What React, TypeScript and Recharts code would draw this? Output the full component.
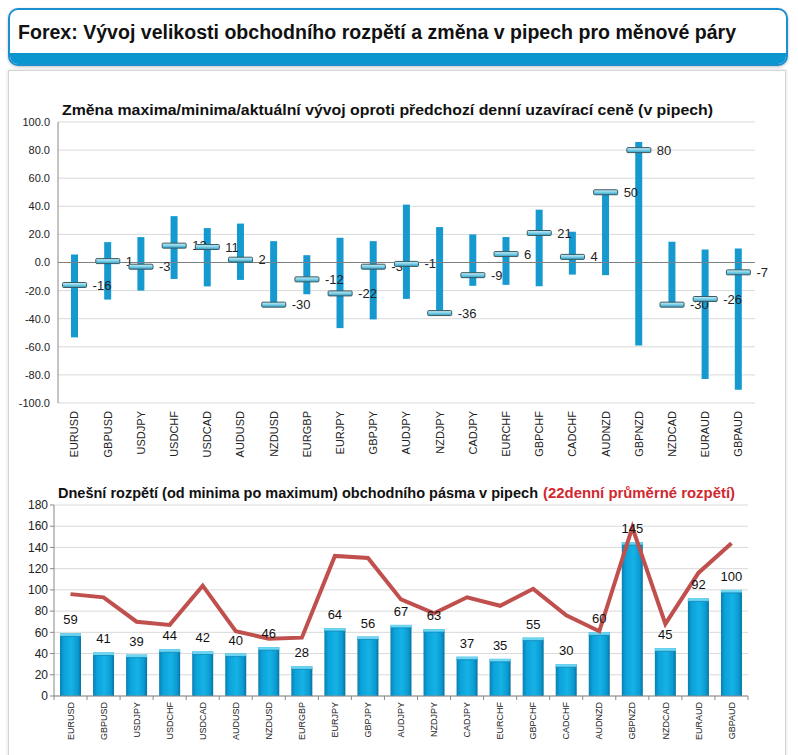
import React from 'react'
import {
  ComposedChart,
  Bar,
  Scatter,
  Line,
  XAxis,
  YAxis,
  CartesianGrid,
  ReferenceLine,
  LabelList,
} from 'recharts'

const pairs = [
  'EURUSD', 'GBPUSD', 'USDJPY', 'USDCHF', 'USDCAD', 'AUDUSD', 'NZDUSD', 'EURGBP', 'EURJPY', 'GBPJPY', 'AUDJPY',
  'NZDJPY', 'CADJPY', 'EURCHF', 'GBPCHF', 'CADCHF', 'AUDNZD', 'GBPNZD', 'NZDCAD', 'EURAUD', 'GBPAUD',
]

// change vs previous daily close (pips)
const maxChange = [5.7, 14.5, 18.1, 33, 24.5, 27.7, 15.2, 5.2, 17.6, 15.2, 41.2, 25.2, 20, 18.1, 37.6, 21.9, 50, 85.7, 14.8, 9.3, 10]
const minChange = [-53.3, -26.4, -20, -11.7, -17, -12.4, -30, -22.6, -46.7, -40.5, -25.9, -36, -16.6, -15.9, -16.9, -8.6, -9, -59, -30, -83, -90.5]
const currentChange = [-16, 1, -3, 12, 11, 2, -30, -12, -22, -3, -1, -36, -9, 6, 21, 4, 50, 80, -30, -26, -7]

// today's range and 22-day average range (pips)
const todayRange = [59, 41, 39, 44, 42, 40, 46, 28, 64, 56, 67, 63, 37, 35, 55, 30, 60, 145, 45, 92, 100]
const avgRange22 = [96, 93, 70, 67, 104, 61, 54, 55, 132, 130, 91, 78, 93, 85, 101, 76, 61, 159, 68, 116, 144]

const changeTicks = [-100, -80, -60, -40, -20, 0, 20, 40, 60, 80, 100]
const rangeTicks = [0, 20, 40, 60, 80, 100, 120, 140, 160, 180]

const FONT = '"Liberation Sans", Arial, sans-serif'

const changeData = pairs.map((p, i) => ({
  pair: p,
  range: [minChange[i], maxChange[i]],
  current: currentChange[i],
}))

const rangeData = pairs.map((p, i) => ({
  pair: p,
  today: todayRange[i],
  avg: avgRange22[i],
}))

function MarkerShape(props: any) {
  const { cx, cy, payload } = props
  if (cx == null || cy == null) return null
  return (
    <g>
      <rect x={cx - 12} y={cy - 2.5} width={24} height={5} rx={1} fill="url(#markerGrad)" stroke="#3b5a60" strokeWidth={1} />
      <text x={cx + 18} y={cy} dy="0.35em" fontSize={13} fill="#222" fontFamily={FONT}>
        {payload.current}
      </text>
    </g>
  )
}

function VTick(props: any) {
  const { x, y, payload, size, boundary } = props
  return (
    <g>
      {boundary && (
        <>
          <line x1={x + boundary} x2={x + boundary} y1={y - 6} y2={y - 2} stroke="#888" />
          {payload.index === 0 && <line x1={x - boundary} x2={x - boundary} y1={y - 6} y2={y - 2} stroke="#888" />}
        </>
      )}
      <g transform={`translate(${x},${y}) rotate(-90)`}>
        <text x={0} y={0} dy="0.35em" textAnchor="end" fontSize={size} fill="#222" fontFamily={FONT}>
          {payload.value}
        </text>
      </g>
    </g>
  )
}

function CylBar(props: any) {
  const { x, y, width, height } = props
  if (height == null || height <= 0) return null
  return (
    <g>
      <rect x={x} y={y} width={width} height={height} fill="url(#barGrad)" />
      <rect x={x} y={y} width={width} height={3} fill="#6fd6f2" />
      <line x1={x} x2={x + width} y1={y + 3} y2={y + 3} stroke="#0a86b8" strokeWidth={0.8} />
    </g>
  )
}

export default function App() {
  return (
    <div style={{ position: 'absolute', left: 0, top: 0, width: 798, height: 755, background: '#fff', overflow: 'hidden' }}>
      {/* header */}
      <div
        style={{
          position: 'absolute',
          left: 8,
          top: 8,
          width: 776,
          height: 54,
          border: '2px solid #1b90d0',
          borderRadius: 10,
          overflow: 'hidden',
          boxShadow: '0 1px 3px rgba(0,0,0,0.25)',
          background: '#fff',
        }}
      >
        <div style={{ position: 'absolute', left: 0, right: 0, bottom: 0, height: 11, background: '#0b96d0' }} />
      </div>
      {/* panel */}
      <div
        style={{
          position: 'absolute',
          left: 8,
          top: 70,
          width: 776,
          height: 700,
          border: '1px solid #d4d4d4',
          boxShadow: '0 0 3px rgba(0,0,0,0.15)',
          background: '#fff',
        }}
      />

      <div style={{ position: 'absolute', left: 0, top: 100 }}>
        <ComposedChart width={798} height={360} data={changeData} margin={{ top: 22, right: 43, bottom: 0, left: 0 }}>
          <defs>
            <linearGradient id="markerGrad" x1="0" y1="0" x2="0" y2="1">
              <stop offset="0%" stopColor="#c8f0f8" />
              <stop offset="50%" stopColor="#7fd0e8" />
              <stop offset="100%" stopColor="#2c9cc4" />
            </linearGradient>
          </defs>
          <CartesianGrid vertical={false} stroke="#d9d9d9" />
          <XAxis
            dataKey="pair"
            axisLine={false}
            tickLine={false}
            height={57}
            interval={0}
            tick={<VTick size={11} />}
          />
          <YAxis
            type="number"
            domain={[-100, 100]}
            ticks={changeTicks}
            width={58}
            tickLine={false}
            axisLine={{ stroke: '#888' }}
            tickFormatter={(v: number) => v.toFixed(1)}
            tick={{ fontSize: 11, fill: '#222', fontFamily: FONT }}
            interval={0}
          />
          <ReferenceLine y={0} stroke="#808080" strokeWidth={1} />
          <Bar dataKey="range" barSize={7} fill="#1699cf" isAnimationActive={false} />
          <Scatter dataKey="current" shape={<MarkerShape />} isAnimationActive={false} />
        </ComposedChart>
      </div>

      <div style={{ position: 'absolute', left: 0, top: 470 }}>
        <ComposedChart width={798} height={285} data={rangeData} margin={{ top: 35, right: 50, bottom: 0, left: 0 }}>
          <defs>
            <linearGradient id="barGrad" x1="0" y1="0" x2="1" y2="0">
              <stop offset="0%" stopColor="#0a7fb0" />
              <stop offset="18%" stopColor="#0aa2da" />
              <stop offset="55%" stopColor="#16b2e6" />
              <stop offset="85%" stopColor="#0a9bd2" />
              <stop offset="100%" stopColor="#08729f" />
            </linearGradient>
          </defs>
          <CartesianGrid vertical={false} stroke="#d9d9d9" />
          <XAxis
            dataKey="pair"
            axisLine={{ stroke: '#888' }}
            tickLine={false}
            tickSize={4}
            tickMargin={2}
            height={59}
            interval={0}
            tick={<VTick size={9} boundary={16.5} />}
          />
          <YAxis
            type="number"
            domain={[0, 180]}
            ticks={rangeTicks}
            width={54}
            tickSize={4}
            tickLine={{ stroke: '#888' }}
            axisLine={{ stroke: '#888' }}
            tick={{ fontSize: 12, fill: '#222', fontFamily: FONT }}
            interval={0}
          />
          <Bar dataKey="today" barSize={21} shape={<CylBar />} isAnimationActive={false}>
            <LabelList dataKey="today" position="top" offset={9} style={{ fontSize: 13, fill: '#111', fontFamily: FONT }} />
          </Bar>
          <Line dataKey="avg" type="linear" stroke="#c0504d" strokeWidth={4} dot={false} isAnimationActive={false} />
        </ComposedChart>
      </div>

      {/* titles */}
      <svg width={798} height={755} style={{ position: 'absolute', left: 0, top: 0, pointerEvents: 'none' }}>
        <text x={18} y={39} fontSize={20} fontWeight="bold" fill="#111" fontFamily={FONT} textLength={718} lengthAdjust="spacingAndGlyphs">
          Forex: Vývoj velikosti obchodního rozpětí a změna v pipech pro měnové páry
        </text>
        <text x={62} y={115} fontSize={15} fontWeight="bold" fill="#111" fontFamily={FONT} textLength={651} lengthAdjust="spacingAndGlyphs">
          Změna maxima/minima/aktuální vývoj oproti předchozí denní uzavírací ceně (v pipech)
        </text>
        <text x={58} y={498} fontSize={15} fontWeight="bold" fill="#111" fontFamily={FONT} textLength={480} lengthAdjust="spacingAndGlyphs">
          Dnešní rozpětí (od minima po maximum) obchodního pásma v pipech
        </text>
        <text x={543} y={498} fontSize={15} fontWeight="bold" fill="#d0282f" fontFamily={FONT} textLength={192} lengthAdjust="spacingAndGlyphs">
          (22denní průměrné rozpětí)
        </text>
      </svg>
    </div>
  )
}
